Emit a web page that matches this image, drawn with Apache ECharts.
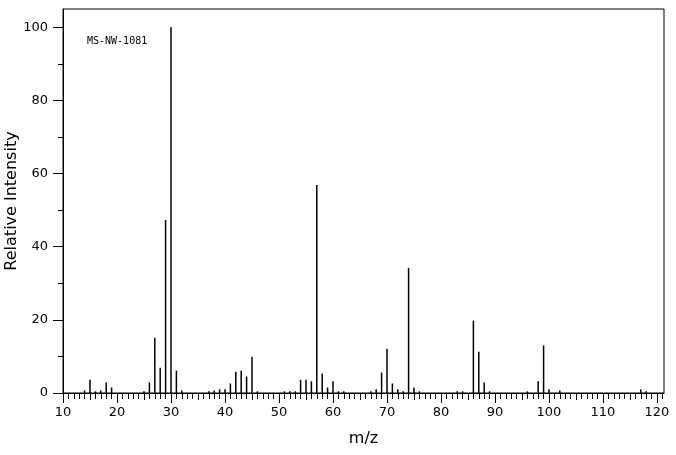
<!DOCTYPE html>
<html>
<head>
<meta charset="utf-8">
<script src="https://cdn.jsdelivr.net/npm/echarts@6.0.0/dist/echarts.min.js"></script>
<style>
  html, body { margin: 0; padding: 0; background: #fff; }
  #chart { width: 676px; height: 455px; }
</style>
</head>
<body>
<div id="chart"></div>
<script>
// m/z of each peak and its relative intensity (%)
var mz = [14, 15, 16, 17, 18, 19, 25, 26, 27, 28, 29, 30, 31, 32,
          37, 38, 39, 40, 41, 42, 43, 44, 45, 46,
          51, 52, 53, 54, 55, 56, 57, 58, 59, 60, 61, 62,
          67, 68, 69, 70, 71, 72, 73, 74, 75, 76,
          83, 84, 86, 87, 88, 89,
          96, 98, 99, 100, 102, 117, 118];
var intensity = [0.7, 3.6, 0.45, 0.7, 2.9, 1.5, 0.45, 2.9, 15.1, 6.9, 47.3, 100, 6.1, 0.7,
                 0.45, 0.7, 1.0, 1.0, 2.6, 5.8, 6.1, 4.5, 9.9, 0.45,
                 0.45, 0.45, 0.45, 3.6, 3.6, 3.2, 56.9, 5.3, 1.5, 3.2, 0.45, 0.45,
                 0.45, 1.0, 5.6, 12.1, 2.6, 1.0, 0.45, 34.2, 1.5, 0.45,
                 0.45, 0.45, 19.8, 11.3, 2.9, 0.45,
                 0.45, 3.2, 13.0, 1.0, 0.7, 1.0, 0.45];

// axis ticks
var xMajor = [10, 20, 30, 40, 50, 60, 70, 80, 90, 100, 110, 120];
var yMajor = [0, 20, 40, 60, 80, 100];
var yMinor = [10, 30, 50, 70, 90];

var xMid = [];
var xMinor = [];
for (var i = 10; i <= 121; i++) {
  if (i % 10 === 5) xMid.push(i);
  else if (i % 5 !== 0) xMinor.push(i);
}

var peaks = mz.map(function (m, k) { return [m, intensity[k]]; });

var font = 'DejaVu Sans';
var xMin = 10, xMax = 121.3;
var yMin = 0, yMax = 105;

var myChart = echarts.init(document.getElementById('chart'));
myChart.setOption({
  backgroundColor: '#fff',
  animation: false,
  grid: {
    left: 63, right: 12, top: 9, bottom: 62,
    outerBoundsMode: 'none',
    containLabel: false,
    show: true,
    borderColor: '#000',
    borderWidth: 1
  },
  graphic: [{
    type: 'text',
    left: 87,
    top: 36,
    style: {
      text: 'MS-NW-1081',
      font: '10px "DejaVu Sans Mono"',
      fill: '#000'
    }
  }],
  xAxis: [
    {
      type: 'value',
      position: 'bottom',
      min: xMin, max: xMax,
      name: 'm/z',
      nameLocation: 'middle',
      nameGap: 38,
      nameMoveOverlap: false,
      nameTextStyle: { fontFamily: font, fontSize: 16, color: '#000' },
      axisLine: { show: true, lineStyle: { color: '#000', width: 1 } },
      axisTick: { show: true, length: 10, customValues: xMajor, lineStyle: { color: '#000' } },
      axisLabel: { customValues: xMajor, margin: 13, fontFamily: font, fontSize: 13, color: '#000' },
      splitLine: { show: false }
    },
    {
      type: 'value',
      position: 'bottom',
      min: xMin, max: xMax,
      axisLine: { show: false },
      axisTick: { show: true, length: 7, customValues: xMid, lineStyle: { color: '#000' } },
      axisLabel: { show: false },
      splitLine: { show: false }
    },
    {
      type: 'value',
      position: 'bottom',
      min: xMin, max: xMax,
      axisLine: { show: false },
      axisTick: { show: true, length: 6, customValues: xMinor, lineStyle: { color: '#000' } },
      axisLabel: { show: false },
      splitLine: { show: false }
    }
  ],
  yAxis: [
    {
      type: 'value',
      position: 'left',
      min: yMin, max: yMax,
      name: 'Relative Intensity',
      nameLocation: 'middle',
      nameGap: 43,
      nameMoveOverlap: false,
      nameTextStyle: { fontFamily: font, fontSize: 16, color: '#000' },
      axisLine: { show: true, lineStyle: { color: '#000', width: 1 } },
      axisTick: { show: true, length: 10, customValues: yMajor, lineStyle: { color: '#000' } },
      axisLabel: { customValues: yMajor, margin: 15, fontFamily: font, fontSize: 13, color: '#000' },
      splitLine: { show: false }
    },
    {
      type: 'value',
      position: 'left',
      min: yMin, max: yMax,
      axisLine: { show: false },
      axisTick: { show: true, length: 5, customValues: yMinor, lineStyle: { color: '#000' } },
      axisLabel: { show: false },
      splitLine: { show: false }
    }
  ],
  series: [
    {
      type: 'bar',
      xAxisIndex: 0,
      yAxisIndex: 0,
      data: peaks,
      barWidth: 1.5,
      itemStyle: { color: '#000' },
      silent: true
    }
  ]
});
</script>
</body>
</html>
